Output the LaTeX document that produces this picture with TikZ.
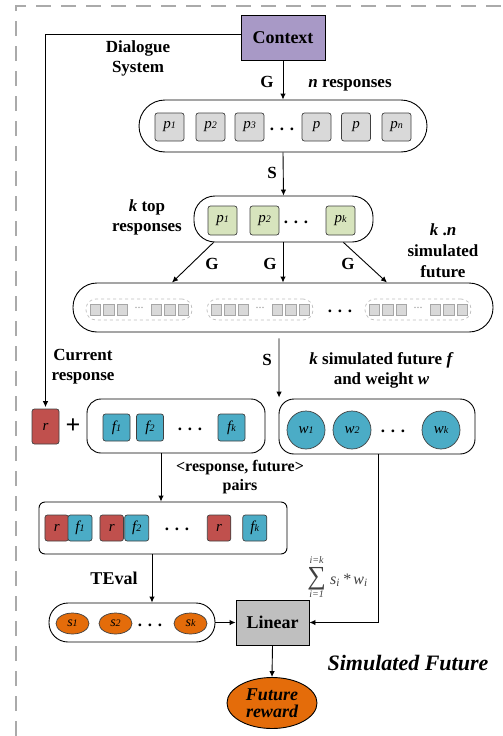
\documentclass[tikz,border=0pt]{standalone}
\usepackage{fontspec}
\setmainfont{Liberation Serif}
\usetikzlibrary{arrows.meta,shapes.geometric}
\definecolor{ctxpurple}{RGB}{168,153,198}
\definecolor{pgray}{RGB}{217,217,217}
\definecolor{pgreen}{RGB}{215,228,189}
\definecolor{rred}{RGB}{192,80,77}
\definecolor{fblue}{RGB}{75,172,198}
\definecolor{sorange}{RGB}{228,108,10}
\definecolor{lingray}{RGB}{191,191,191}
\definecolor{framegray}{RGB}{170,170,170}
\newcommand{\idx}[2]{#1{\fontsize{10}{10}\selectfont #2}}
\newcommand{\smallit}[1]{\mbox{\fontsize{10}{10}\selectfont\itshape #1}}
\begin{document}
\begin{tikzpicture}[x=1pt,y=-1pt,
  container/.style={draw=black,line width=0.9pt,fill=white,inner sep=0pt},
  item/.style={draw=black!75,line width=0.7pt,rounded corners=2.5pt,inner sep=0pt,
    font=\itshape\fontsize{15}{15}\selectfont},
  pitem/.style={item,fill=pgray,minimum width=29pt,minimum height=28pt},
  gitem/.style={item,fill=pgreen,minimum width=29pt,minimum height=29pt},
  fitem/.style={item,fill=fblue,minimum width=27pt,minimum height=27pt},
  ritem/.style={item,fill=rred,minimum width=27pt,minimum height=35pt},
  pairr/.style={item,fill=rred,minimum width=23.5pt,minimum height=26pt},
  pairf/.style={item,fill=fblue,minimum width=24pt,minimum height=26pt},
  witem/.style={circle,draw=black!75,line width=0.7pt,fill=fblue,minimum size=38pt,inner sep=0pt,
    font=\itshape\fontsize{15}{15}\selectfont},
  sitem/.style={ellipse,draw=black!75,line width=0.7pt,fill=sorange,minimum width=33pt,minimum height=21pt,
    inner sep=0pt,font=\itshape\fontsize{14}{14}\selectfont},
  simgrp/.style={draw=black!25,dashed,line width=0.7pt,rounded corners=10pt,minimum width=106pt,minimum height=21pt,inner sep=0pt},
  sq/.style={draw=black!35,fill=pgray,line width=0.5pt,minimum width=10.5pt,minimum height=11.5pt,inner sep=0pt},
  dots/.style={font=\bfseries\fontsize{17}{17}\selectfont,inner sep=0pt},
  lbl/.style={font=\bfseries\fontsize{17}{20}\selectfont,align=center,inner sep=0pt},
  arr/.style={-{Latex[length=6pt,width=5.5pt]},line width=0.9pt},
  plain/.style={line width=0.9pt}
]
\useasboundingbox (0,0) rectangle (503,736);
% outer dashed frame
\coordinate (fr) at (16,6);
\draw[framegray,line width=2.6pt,dash pattern=on 15pt off 10pt] (fr |- 0,736) -- (fr) -- (fr -| 503,0);

% context
\node[draw=black,line width=0.9pt,fill=ctxpurple,minimum width=84pt,minimum height=45pt,
  font=\bfseries\fontsize{18}{20}\selectfont] (ctx) at (283,38) {Context};

% n responses
\node[container,rounded corners=26pt,minimum width=288pt,minimum height=52pt] (nbox) at (283,126) {};
\node[pitem] (p1) at (169.5,127) {\idx{p}{1}};
\node[pitem] (p2) at (210.5,127) {\idx{p}{2}};
\node[pitem] (p3) at (249.5,127) {\idx{p}{3}};
\node[dots] (nd) at (282,129) {.\,\,.\,\,.};
\node[pitem] (p4) at (316.5,127) {p};
\node[pitem] (p5) at (356,127) {p};
\node[pitem] (pn) at (396.5,127) {\idx{p}{n}};

% k top
\node[container,rounded corners=21pt,minimum width=179pt,minimum height=46pt] (ktop) at (283.5,219) {};
\node[gitem] (k1) at (222.5,220.5) {\idx{p}{1}};
\node[gitem] (k2) at (264.5,220.5) {\idx{p}{2}};
\node[dots] (kd) at (296,222) {.\,\,.\,\,.};
\node[gitem] (kk) at (340.5,220.5) {\idx{p}{k}};

% simulated future box
\node[container,rounded corners=24pt,minimum width=420pt,minimum height=49pt] (sim) at (283,307.5) {};
\foreach \n/\cx in {g1/139,g2/260,g3/418}{
  \node[simgrp] (\n) at (\cx,309.5) {};
  \foreach \dx in {-44,-30.5,-17,17,30.5,44}
    \node[sq] at ([xshift=\dx pt]\n.center) {};
  \node[text=black!40,font=\fontsize{12}{12}\selectfont,inner sep=0pt] at ([yshift=2pt]\n.center) {...};
}
\node[dots] (sd) at (340,311) {.\,\,.\,\,.};

% current response r and futures
\node[ritem] (r) at (45.5,426.5) {r};
\node[font=\bfseries\fontsize{26}{26}\selectfont,inner sep=0pt] (plus) at (73,426) {+};
\node[container,rounded corners=14pt,minimum width=178pt,minimum height=54pt] (fbox) at (176,426) {};
\node[fitem] (f1) at (116.5,427.5) {\idx{f}{1}};
\node[fitem] (f2) at (150,427.5) {\idx{f}{2}};
\node[dots] (fd) at (190,429) {.\,\,.\,\,.};
\node[fitem] (fk) at (231.5,427.5) {\idx{f}{k}};

% weights
\node[container,rounded corners=15pt,minimum width=196pt,minimum height=55pt] (wbox) at (377,426.5) {};
\node[witem] (w1) at (306,430) {\idx{w}{1}};
\node[witem] (w2) at (352,430) {\idx{w}{2}};
\node[dots] (wd) at (393,431) {.\,\,.\,\,.};
\node[witem] (wk) at (441,430) {\idx{w}{k}};

% pairs
\node[container,rounded corners=6pt,minimum width=248pt,minimum height=52pt] (pairs) at (163,528) {};
\node[pairr] (pr1) at (56.7,528) {r};
\node[pairf] (pf1) at (80,528) {\idx{f}{1}};
\node[pairr] (pr2) at (111.7,528) {r};
\node[pairf] (pf2) at (136.7,528) {\idx{f}{2}};
\node[dots] (pd) at (177,529) {.\,\,.\,\,.};
\node[pairr] (pr3) at (219,528) {r};
\node[pairf] (pfk) at (254.8,528) {\idx{f}{k}};

% scores
\node[container,rounded corners=19pt,minimum width=166pt,minimum height=39pt] (sbox) at (132,622.5) {};
\node[sitem] (s1) at (72.5,623.5) {\idx{s}{1}};
\node[sitem] (s2) at (115.5,623.5) {\idx{s}{2}};
\node[dots] (sdots) at (150,625) {.\,\,.\,\,.};
\node[sitem] (sk) at (190.5,623.5) {\idx{s}{k}};

% linear and reward
\node[draw=black,line width=0.9pt,fill=lingray,minimum width=73pt,minimum height=45pt,inner sep=0pt,
  font=\bfseries\fontsize{18}{20}\selectfont] (lin) at (272.5,622.5) {Linear};
\node[ellipse,draw=black,line width=0.9pt,fill=sorange,minimum width=90pt,minimum height=51pt,inner sep=0pt,
  align=center,font=\bfseries\itshape\fontsize{18}{17}\selectfont] (rew) at (272,703) {Future\\reward};

% connectors
\draw[plain,-{Latex[length=6pt,width=5.5pt]}] ([yshift=4pt]ctx.west) -| ([yshift=1.5pt]r.north);
\draw[arr] (ctx.south) -- (nbox.north);
\draw[arr] (nbox.south) -- (ktop.north);
\draw[arr] ([xshift=-70pt]ktop.south) -- ([xshift=-111pt]sim.north);
\draw[arr] ([xshift=-0.5pt]ktop.south) -- (sim.north);
\draw[arr] ([xshift=60pt]ktop.south) -- ([xshift=104pt]sim.north);
\draw[arr,shorten <=6pt] ([xshift=-4pt]sim.south) -- ([xshift=0.5pt,yshift=1pt]wbox.north west);
\draw[arr] ([xshift=-15pt]fbox.south) -- ([xshift=-2pt]pairs.north);
\draw[arr] ([xshift=-11pt]pairs.south) -- ([xshift=20pt]sbox.north);
\draw[arr] (sbox.east) -- (lin.west);
\draw[arr] ([xshift=1pt]wbox.south) |- (lin.east);
\draw[arr] (lin.south) -- (rew.north);

% labels
\node[lbl] (lds) at (138,58) {Dialogue\\System};
\node[lbl] (lg0) at (267,82) {G};
\node[lbl] (lnr) at (350,85) {\textit{n} responses};
\node[lbl] (ls1) at (272,173) {S};
\node[lbl] (lkt) at (147,217) {\textit{k} top\\responses};
\node[lbl,font=\bfseries\fontsize{17}{21}\selectfont] (lkn) at (443,251) {\textit{k} .\textit{n}\\simulated\\future};
\node[lbl] (lg1) at (212,264) {G};
\node[lbl] (lg2) at (270,264) {G};
\node[lbl] (lg3) at (348,264) {G};
\node[lbl] (ls2) at (267,360) {S};
\node[lbl] (lcr) at (83,367) {Current\\response};
\node[lbl] (lkf) at (381.5,370) {\textit{k} simulated future \textit{f}\\and weight \textit{w}};
\node[lbl,font=\bfseries\fontsize{16}{19}\selectfont] (lrf) at (240,477.5) {<response, future>\\pairs};
\node[lbl,font=\bfseries\fontsize{18}{20}\selectfont] (lte) at (114,578) {TEval};
\node[text=black!75,inner sep=0pt] (lsum) at (337.5,577)
  {$\mathop{\mbox{\fontsize{26}{26}\selectfont ∑}}\limits^{\raisebox{2pt}{\smallit{i=k}}}_{\raisebox{-2pt}{\smallit{i=1}}}
   \mbox{\fontsize{16}{16}\selectfont\itshape\,s\textsubscript{i}\,*\,w\textsubscript{i}}$};
\node[font=\bfseries\itshape\fontsize{22}{24}\selectfont,inner sep=0pt] (lsf) at (408,663) {Simulated Future};
\end{tikzpicture}
\end{document}
